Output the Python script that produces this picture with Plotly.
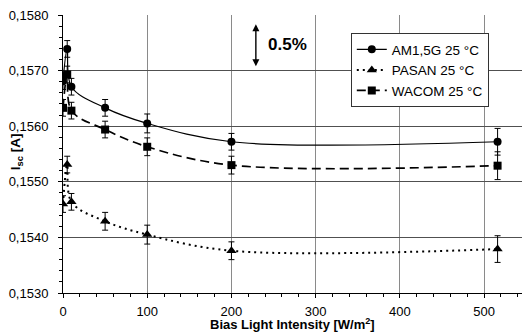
import plotly.graph_objects as go

x_vals = [0, 5, 10, 50, 100, 200, 516]

am_y = [0.15681, 0.15739, 0.15671, 0.15633, 0.15605, 0.15572, 0.15572]
am_err = [0.00015, 0.00015, 0.00015, 0.00015, 0.00017, 0.00015, 0.00024]

pasan_y = [0.15460, 0.15531, 0.15464, 0.15429, 0.15405, 0.15376, 0.15379]
pasan_err = [0.00015, 0.00015, 0.00015, 0.00016, 0.00017, 0.00016, 0.00024]

wacom_y = [0.15633, 0.15693, 0.15628, 0.15594, 0.15563, 0.15530, 0.15529]
wacom_err = [0.00015, 0.00015, 0.00015, 0.00015, 0.00016, 0.00016, 0.00025]

names = ["AM1,5G 25 °C", "PASAN 25 °C", "WACOM 25 °C"]
x_title = "<b>Bias Light Intensity [W/m<sup>2</sup>]</b>"
y_title = "<b>I<sub>sc</sub> [A]</b>"

FONT = "Liberation Sans, Arial, sans-serif"

fig = go.Figure()

def add(name, y, err, symbol, dash, width, msize):
    fig.add_trace(go.Scatter(
        x=x_vals, y=y, name=name, mode="lines+markers",
        line=dict(color="black", width=width, dash=dash, shape="spline", smoothing=1),
        marker=dict(symbol=symbol, size=msize, color="black"),
        error_y=dict(type="data", array=err, visible=True, color="black",
                     thickness=1, width=3),
    ))

add(names[0], am_y, am_err, "circle", "solid", 1.2, 8)
add(names[1], pasan_y, pasan_err, "triangle-up", "2px,4px", 2, 9)
add(names[2], wacom_y, wacom_err, "square", "9px,5px", 1.7, 8)

fig.add_annotation(x=229, y=0.15708, ax=229, ay=0.15786, xref="x", yref="y",
                   axref="x", ayref="y", text="", showarrow=True,
                   arrowhead=2, arrowside="end+start", arrowsize=1,
                   arrowwidth=1.4, arrowcolor="black")
fig.add_annotation(x=241, y=0.15747, xref="x", yref="y", text="<b>0.5%</b>",
                   showarrow=False, xanchor="left", yanchor="middle",
                   font=dict(family=FONT, size=17, color="black"))

# axis titles as annotations placed like the reference
fig.add_annotation(x=-0.102, y=0.507, xref="paper", yref="paper", text=y_title,
                   textangle=-90, showarrow=False, xanchor="center", yanchor="middle",
                   font=dict(family=FONT, size=13.5, color="black"))
fig.add_annotation(x=0.5, y=-0.113, xref="paper", yref="paper", text=x_title,
                   showarrow=False, xanchor="center", yanchor="middle",
                   font=dict(family=FONT, size=13, color="black"))

fig.update_layout(
    width=523, height=336,
    margin=dict(l=63, r=1, t=15, b=43),
    paper_bgcolor="white", plot_bgcolor="white",
    separators=",.",
    font=dict(family=FONT, size=13, color="black"),
    showlegend=True,
    legend=dict(x=0.627, y=0.935, xanchor="left", yanchor="top",
                bgcolor="white", bordercolor="#333", borderwidth=1,
                font=dict(family=FONT, size=13.5, color="black"),
                tracegroupgap=0),
    xaxis=dict(range=[0, 545], dtick=100, tick0=0, showgrid=True,
               gridcolor="#8a8a8a", gridwidth=1.3, showline=True,
               linecolor="black", linewidth=1, ticks="outside", ticklen=4,
               tickcolor="black", zeroline=False,
               minor=dict(dtick=20, ticks="outside", ticklen=3, tickcolor="black"),
               tickfont=dict(size=13), ticklabelstandoff=2),
    yaxis=dict(range=[0.153, 0.158], dtick=0.001, tick0=0.153, tickformat=".4f",
               showgrid=True, gridcolor="#505050", gridwidth=1, showline=True,
               linecolor="black", linewidth=1, ticks="outside", ticklen=4,
               tickcolor="black", zeroline=False,
               minor=dict(dtick=0.0002, ticks="outside", ticklen=3, tickcolor="black"),
               tickfont=dict(size=13), ticklabelstandoff=7),
)

fig.write_html("out.html")
